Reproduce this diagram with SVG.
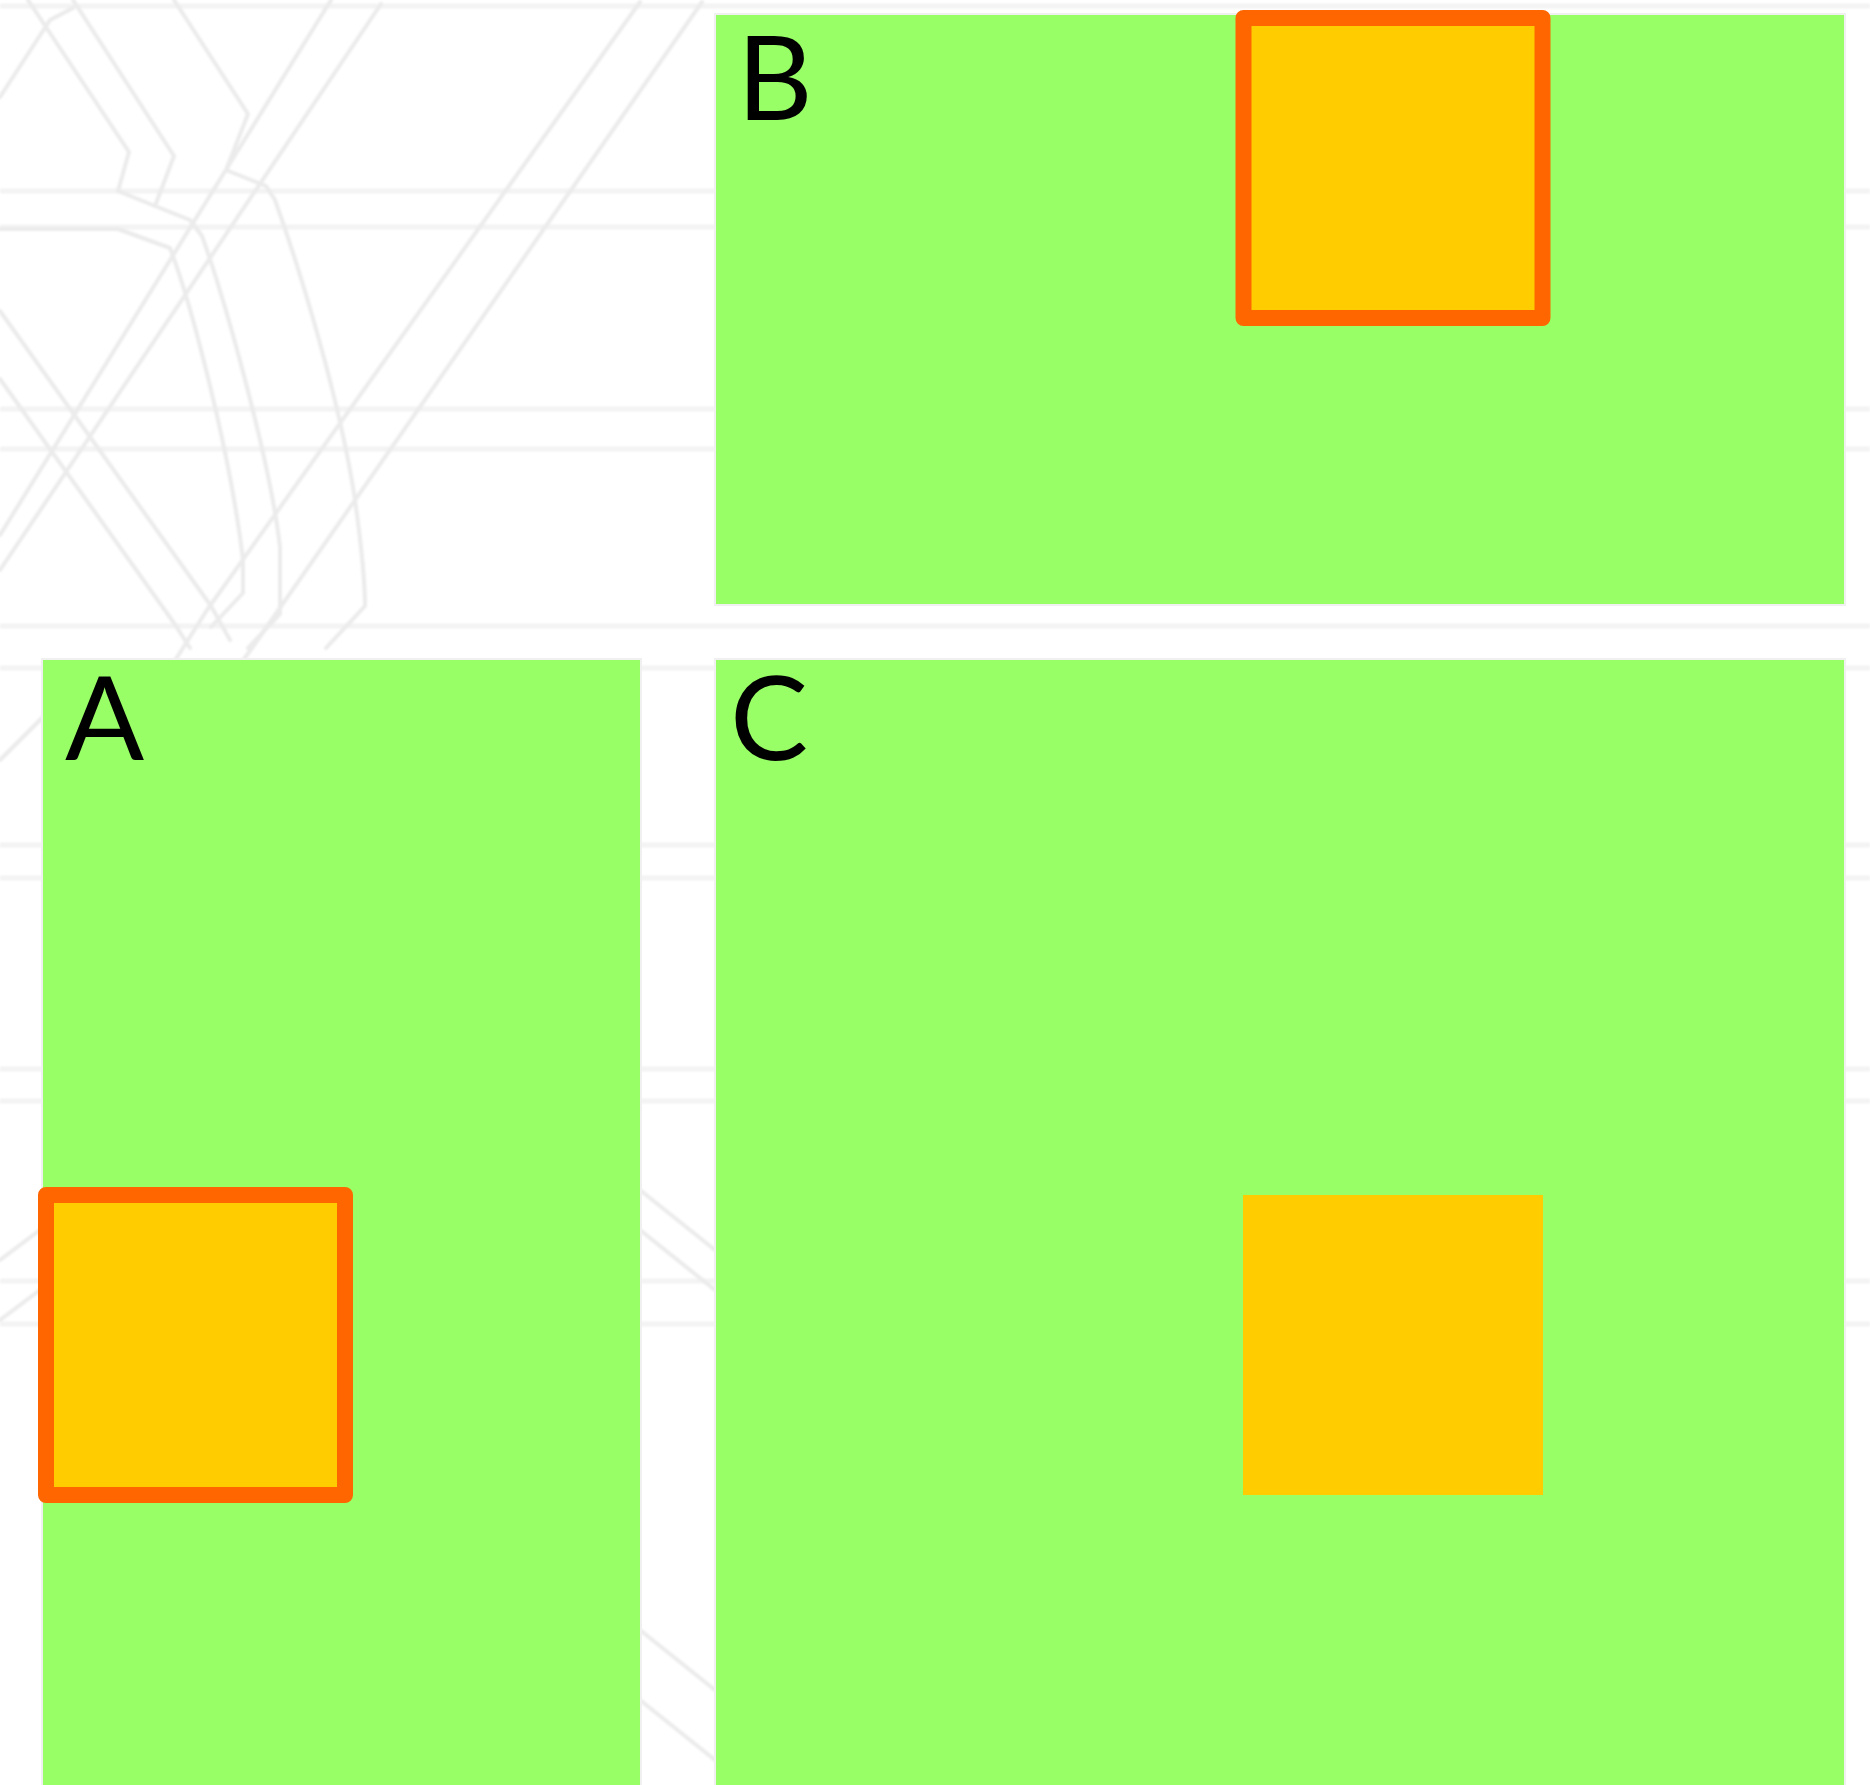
<svg xmlns="http://www.w3.org/2000/svg" width="1870" height="1785" viewBox="0 0 1870 1785">
  <defs>
    <filter id="soft" x="-5%" y="-5%" width="110%" height="110%">
      <feGaussianBlur stdDeviation="1.2"/>
    </filter>
  </defs>
  <style>
    .bg { fill: none; stroke: #ebebeb; stroke-width: 4; stroke-linejoin: round; stroke-linecap: round; }
    .bgh { fill: none; stroke: #f3f3f3; stroke-width: 5; }
    .panel { fill: #99ff66; stroke: #f0f0f0; stroke-width: 2; }
    .box { fill: #ffcc00; stroke: #ff6600; stroke-width: 16; stroke-linejoin: round; }
    .plain { fill: #ffcc00; }
    .lbl { font-family: Lato, "Liberation Sans", sans-serif; font-size: 117px; fill: #000000; }
  </style>
  <rect x="0" y="0" width="1870" height="1785" fill="#ffffff"/>
  <g id="background" filter="url(#soft)">
    <path class="bgh" d="M0 6H1870 M0 191H1870 M0 227H1870 M0 409H1870 M0 449H1870 M0 626H1870 M0 668H1870 M0 845H1870 M0 878H1870 M0 1069H1870 M0 1101H1870 M0 1281H1870 M0 1324H1870"/>
    <path class="bg" d="M640 2L207 610L150 700 M702 2L252 648L200 720 M331 0L0 535 M381 4L0 570 M0 97L50 20L73 8 M28 0L129 152L118 191 M73 0L174 156L155 206L190 220L202 236 M174 0L248 114L226 170L266 186L275 200"/>
    <path class="bg" d="M0 311L211 606L230 640 M0 379L174 623L190 648"/>
    <path class="bg" d="M118 191L155 206 M0 229L118 229L170 248 C190 300 230 450 243 560 L243 593L211 627 M202 236 C225 300 270 460 280 547 L280 614L248 648 M275 200 C300 270 340 400 355 500 C362 550 365 580 365 606 L326 648"/>
    <path class="bg" d="M0 760L60 700 M0 1260L40 1230 M0 1320L40 1290 M640 1190L715 1250 M640 1230L715 1290 M640 1630L715 1690 M640 1700L715 1760"/>
  </g>
  <g id="panel-b">
    <rect class="panel" x="715" y="14" width="1130" height="591"/>
    <text class="lbl" x="737" y="120">B</text>
    <g id="box-b">
      <rect class="box" x="1243.5" y="18" width="299" height="300"/>
    </g>
  </g>
  <g id="panel-a">
    <rect class="panel" x="42" y="659" width="599" height="1130"/>
    <text class="lbl" x="65" y="760">A</text>
    <g id="box-a">
      <rect class="box" x="46" y="1195" width="299" height="300"/>
    </g>
  </g>
  <g id="panel-c">
    <rect class="panel" x="715" y="659" width="1130" height="1130"/>
    <text class="lbl" x="730" y="760">C</text>
    <g id="box-c">
      <rect class="plain" x="1243" y="1195" width="300" height="300"/>
    </g>
  </g>
</svg>
